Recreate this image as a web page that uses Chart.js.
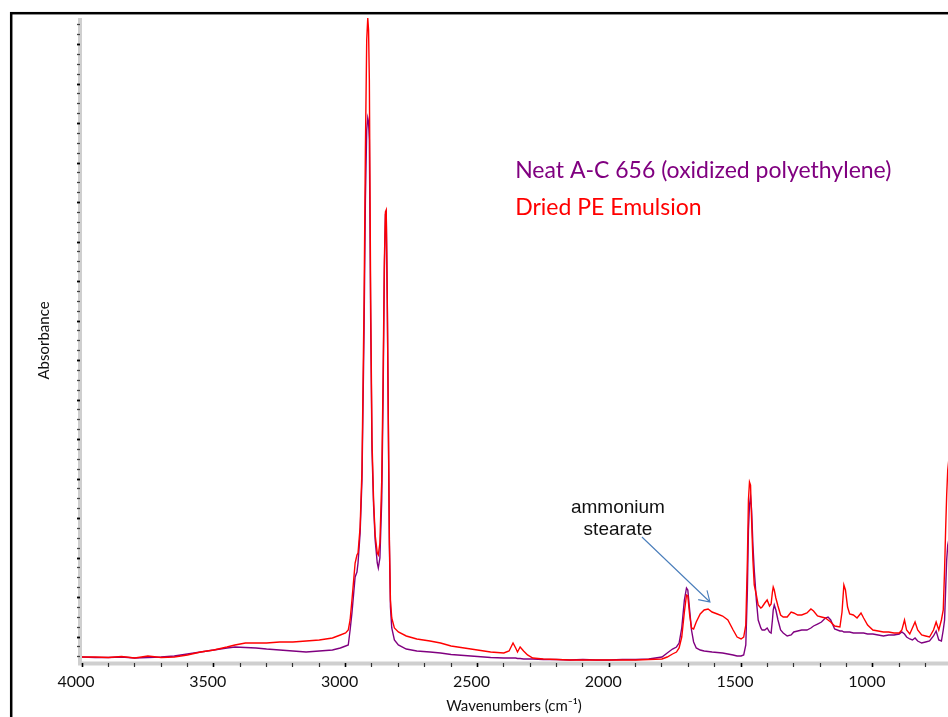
<!DOCTYPE html>
<html><head><meta charset="utf-8">
<script src="https://cdn.jsdelivr.net/npm/chart.js@4.4.0/dist/chart.umd.min.js"></script>
<style>html,body{margin:0;padding:0;background:#fff;overflow:hidden}canvas{display:block}</style>
</head><body>
<canvas id="c" width="948" height="717"></canvas>
<script>
// Wavenumbers (cm-1)
const wavenumbers = [4000,3950,3900,3850,3800,3750,3700,3650,3600,3550,3500,3450,3420,3380,3340,3300,3250,3200,3150,3100,3050,3020,3000,2990,2983,2976,2964,2957,2953,2945,2938,2930,2925,2920,2916,2913,2910,2905,2900,2894,2888,2880,2876,2870,2863,2858,2853,2849,2846,2842,2838,2834,2830,2825,2815,2800,2770,2730,2680,2640,2600,2550,2500,2450,2400,2380,2365,2355,2348,2338,2325,2310,2290,2250,2200,2150,2100,2050,2000,1950,1900,1850,1800,1780,1760,1745,1735,1725,1715,1707,1702,1695,1688,1680,1670,1655,1640,1625,1610,1590,1570,1550,1530,1515,1500,1490,1482,1476,1472,1468,1464,1460,1455,1450,1442,1435,1425,1420,1410,1401,1392,1386,1381,1378,1374,1368,1360,1350,1340,1325,1310,1300,1285,1270,1250,1235,1225,1210,1195,1180,1170,1160,1145,1125,1117,1110,1104,1096,1088,1074,1060,1045,1035,1020,1000,980,960,940,920,900,890,880,872,860,850,840,830,815,800,785,770,760,750,740,733,728,724,720,716,712];
// Dried PE Emulsion (red)
const driedPEEmulsion = [.0152,.0152,.0139,.0165,.0127,.0177,.0139,.0152,.0203,.0278,.0329,.0405,.0456,.0506,.0506,.0506,.0532,.0532,.0557,.0582,.0633,.0709,.0759,.0835,.1089,.1595,.2532,.2734,.2785,.3443,.4886,.9190,1.2987,1.5772,1.6329,1.6025,1.4759,.9190,.5646,.4127,.3241,.2785,.2734,.3038,.4633,.7165,1.0203,1.1418,1.1468,.9190,.6152,.3114,.1595,.1139,.0886,.0785,.0684,.0608,.0557,.0506,.0430,.0380,.0329,.0278,.0253,.0304,.0506,.0380,.0278,.0405,.0304,.0203,.0127,.0101,.0089,.0076,.0076,.0076,.0076,.0076,.0076,.0089,.0101,.0152,.0228,.0278,.0380,.0658,.1291,.1722,.1696,.1215,.0886,.0861,.1038,.1241,.1342,.1367,.1291,.1241,.1190,.1089,.0835,.0658,.0608,.0658,.0962,.2608,.4127,.4582,.4506,.3620,.2608,.1975,.1722,.1468,.1392,.1418,.1519,.1595,.1443,.1494,.1797,.1924,.1848,.1646,.1443,.1215,.1165,.1165,.1291,.1266,.1215,.1215,.1266,.1367,.1316,.1190,.1165,.1139,.1089,.1038,.0937,.0911,.1291,.1975,.1848,.1418,.1241,.1215,.1139,.1266,.1139,.0962,.0835,.0810,.0785,.0785,.0759,.0759,.0835,.1089,.0835,.0734,.0886,.1038,.0835,.0709,.0684,.0658,.0835,.1038,.0835,.1089,.1342,.2354,.3367,.4253,.4886,.5139];
// Neat A-C 656 (oxidized polyethylene) (purple)
const neatAC656 = [.0152,.0139,.0139,.0152,.0127,.0139,.0152,.0177,.0228,.0278,.0329,.0380,.0405,.0392,.0380,.0354,.0329,.0304,.0278,.0304,.0329,.0380,.0430,.0456,.0835,.1266,.2177,.2304,.2532,.3291,.4633,.8430,1.1722,1.3494,1.3797,1.3696,1.3241,.8684,.5392,.4000,.3114,.2532,.2405,.2658,.4127,.6658,.9949,1.1367,1.1418,.9190,.6025,.2987,.1418,.0886,.0582,.0456,.0354,.0304,.0278,.0253,.0215,.0190,.0165,.0139,.0127,.0127,.0127,.0127,.0114,.0114,.0101,.0101,.0101,.0089,.0089,.0076,.0089,.0076,.0076,.0089,.0089,.0101,.0152,.0253,.0354,.0405,.0506,.0886,.1595,.1899,.1848,.1342,.0835,.0532,.0380,.0329,.0304,.0291,.0278,.0266,.0253,.0228,.0203,.0177,.0177,.0203,.0456,.1848,.3367,.4000,.4203,.3873,.2987,.2354,.1595,.1089,.0886,.0835,.0835,.0886,.0785,.0759,.1089,.1342,.1468,.1342,.1089,.0835,.0759,.0684,.0709,.0785,.0810,.0835,.0835,.0886,.0937,.0987,.1038,.1139,.1165,.1089,.0861,.0810,.0810,.0785,.0785,.0785,.0785,.0759,.0759,.0759,.0759,.0734,.0734,.0709,.0684,.0709,.0709,.0734,.0785,.0734,.0658,.0608,.0582,.0633,.0557,.0506,.0532,.0557,.0684,.0810,.0582,.0557,.0835,.1089,.1848,.2608,.2987,.3114];

const seriesNames = ['Dried PE Emulsion', 'Neat A-C 656 (oxidized polyethylene)'];
const seriesColors = ['#ff0000', '#800080'];
const xTicks = [4000,3900,3800,3700,3600,3500,3400,3300,3200,3100,3000,2900,2800,2700,2600,2500,2400,2300,2200,2100,2000,1900,1800,1700,1600,1500,1400,1300,1200,1100,1000,900,800];
const xTickLabels = ['4000','3500','3000','2500','2000','1500','1000'];
const yTickStart = 0.0158, yTickStep = 0.025, yTickCount = 65, yMajorEvery = 4, yMajorOffset = 2;

// annotation anchors in data units
const legendAnchor = {x: 2357, y1: 1.2278, y2: 1.1342};
const noteAnchor = {x: 1967, y1: 0.3797, y2: 0.3241, lines: ['ammonium', 'stearate']};
const arrowFrom = {x: 1876, y: 0.319};
const arrowTo = {x: 1618, y: 0.1544};

const isMajorY = v => {
  const k = Math.round((v - yTickStart) / yTickStep);
  return (k - yMajorOffset) % yMajorEvery === 0;
};
const isMajorX = v => xTickLabels.includes(String(v));

const decor = {
  id: 'decor',
  beforeDraw(chart) {
    const {ctx, chartArea: a} = chart;
    ctx.save();
    ctx.fillStyle = '#fff';
    ctx.fillRect(0, 0, chart.width, chart.height);
    ctx.strokeStyle = '#000';
    ctx.lineWidth = 2.5;
    ctx.strokeRect(11.2, 13.2, 2000, 2000);
    ctx.fillStyle = '#cfcfcf';
    ctx.fillRect(a.left - 2, a.top, 4, a.bottom - a.top + 2);
    ctx.fillRect(a.left - 2, a.bottom - 1.5, a.right - a.left + 2, 4);
    ctx.restore();
  },
  afterDatasetsDraw(chart) {
    const {ctx, scales: {x, y}} = chart;
    ctx.save();
    // legend text
    ctx.font = '23px Lato';
    ctx.textBaseline = 'alphabetic';
    ctx.textAlign = 'left';
    const lx = x.getPixelForValue(legendAnchor.x);
    const w1 = ctx.measureText(seriesNames[1]).width;
    const sx = Math.min(1, 383 / w1);
    ctx.save();
    ctx.translate(lx, y.getPixelForValue(legendAnchor.y1));
    ctx.scale(sx, 1);
    ctx.fillStyle = seriesColors[1];
    ctx.fillText(seriesNames[1], 0, 0);
    ctx.restore();
    ctx.save();
    ctx.translate(lx, y.getPixelForValue(legendAnchor.y2));
    ctx.scale(sx, 1);
    ctx.fillStyle = seriesColors[0];
    ctx.fillText(seriesNames[0], 0, 0);
    ctx.restore();
    // note
    ctx.font = '19px "Liberation Sans", Arial, sans-serif';
    ctx.textAlign = 'center';
    ctx.fillStyle = '#111';
    const nx = x.getPixelForValue(noteAnchor.x);
    ctx.fillText(noteAnchor.lines[0], nx, y.getPixelForValue(noteAnchor.y1));
    ctx.fillText(noteAnchor.lines[1], nx, y.getPixelForValue(noteAnchor.y2));
    // arrow
    const x0 = x.getPixelForValue(arrowFrom.x), y0 = y.getPixelForValue(arrowFrom.y);
    const x1 = x.getPixelForValue(arrowTo.x), y1 = y.getPixelForValue(arrowTo.y);
    const ang = Math.atan2(y0 - y1, x0 - x1);
    ctx.strokeStyle = '#4a7ebb';
    ctx.lineWidth = 1.1;
    ctx.beginPath();
    ctx.moveTo(x0, y0); ctx.lineTo(x1, y1);
    ctx.moveTo(x1 + 12 * Math.cos(ang - 0.56), y1 + 12 * Math.sin(ang - 0.56));
    ctx.lineTo(x1, y1);
    ctx.lineTo(x1 + 12 * Math.cos(ang + 0.56), y1 + 12 * Math.sin(ang + 0.56));
    ctx.stroke();
    ctx.restore();
  }
};

new Chart(document.getElementById('c'), {
  type: 'line',
  data: {
    datasets: [
      {label: seriesNames[0], data: wavenumbers.map((w, i) => ({x: w, y: driedPEEmulsion[i]})),
       borderColor: seriesColors[0], borderWidth: 1.4, pointRadius: 0, tension: 0, fill: false},
      {label: seriesNames[1], data: wavenumbers.map((w, i) => ({x: w, y: neatAC656[i]})),
       borderColor: seriesColors[1], borderWidth: 1.4, pointRadius: 0, tension: 0, fill: false}
    ]
  },
  options: {
    responsive: false, animation: false, devicePixelRatio: 1,
    layout: {padding: {top: 18, left: 0, right: 0, bottom: 0}},
    plugins: {legend: {display: false}, tooltip: {enabled: false}},
    scales: {
      x: {
        type: 'linear', reverse: true, min: 715, max: 4007.6,
        afterBuildTicks: s => { s.ticks = xTicks.map(v => ({value: v})); },
        afterFit: s => { s.height = 54; },
        ticks: {autoSkip: false, maxRotation: 0, padding: 5, labelOffset: -6, color: '#111',
          font: {family: 'Lato', size: 16},
          callback: v => xTickLabels.includes(String(v)) ? String(v) : ''},
        grid: {drawOnChartArea: false, drawTicks: true, tickLength: 4,
          tickColor: c => (c.tick && isMajorX(c.tick.value)) ? '#000' : '#333',
          tickWidth: c => (c.tick && isMajorX(c.tick.value)) ? 1.6 : 1.2},
        border: {display: false},
        title: {display: true, text: 'Wavenumbers (cm⁻¹)', color: '#111',
          font: {family: 'Lato', size: 15}, padding: {top: 0, bottom: 2}}
      },
      y: {
        type: 'linear', min: 0, max: 1.633,
        afterBuildTicks: s => {
          const t = [];
          for (let k = 0; k < yTickCount; k++) t.push({value: yTickStart + k * yTickStep});
          s.ticks = t;
        },
        afterFit: s => { s.width = 80; },
        ticks: {display: false},
        grid: {drawOnChartArea: false, drawTicks: true, tickLength: 3,
          tickColor: c => (c.tick && isMajorY(c.tick.value)) ? '#000' : '#444',
          tickWidth: c => (c.tick && isMajorY(c.tick.value)) ? 1.8 : 1.3},
        border: {display: false},
        title: {display: true, text: 'Absorbance', color: '#111',
          font: {family: 'Lato', size: 15}, padding: {top: 35, bottom: 0}}
      }
    }
  },
  plugins: [decor]
});
</script>
</body></html>
